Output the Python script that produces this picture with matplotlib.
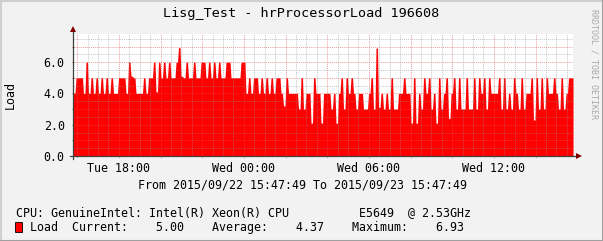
import numpy as np
import pandas as pd
import matplotlib
matplotlib.use("Agg")
import matplotlib.pyplot as plt
import matplotlib.dates as mdates
from matplotlib.ticker import MultipleLocator, FuncFormatter
from matplotlib.patches import Rectangle
from matplotlib.lines import Line2D

# ---------------- data ----------------
title = "Lisg_Test - hrProcessorLoad 196608"
y_label = "Load"
time_start = "2015-09-22 15:47:49"
time_end = "2015-09-23 15:47:49"
period_text = "From 2015/09/22 15:47:49 To 2015/09/23 15:47:49"
cpu_desc = "CPU: GenuineIntel: Intel(R) Xeon(R) CPU          E5649  @ 2.53GHz"
series_name = "Load"
stats_labels = ["Current:", "Average:", "Maximum:"]
stats_values = [5.00, 4.37, 6.93]
watermark = "RRDTOOL / TOBI OETIKER"

load_part1 = [4, 5, 5, 5, 4, 6, 4, 5, 4, 5, 4, 5, 4, 5, 4, 5, 4, 4, 5, 5,
              5, 4, 6, 5.1, 5, 4, 4, 4, 5, 4, 5, 5, 6]
load_part2 = [4.1, 6, 5, 6, 5, 6, 5, 5, 6, 6.93, 5.1, 5, 6, 5, 5, 6, 5, 5, 6, 6,
              5, 6, 5, 6, 5, 6, 5, 5, 6, 6, 5, 5, 5]
load_part3 = [5, 6, 6, 4, 5, 4, 5, 5, 4, 5, 4, 5, 4, 5, 4, 5, 5, 4, 3.2, 5,
              4, 4, 4, 4, 3, 5, 3, 4, 4, 2.1, 5, 4, 4, 2.1]
load_part4 = [4, 4, 4, 3, 4, 2.1, 4, 5, 3, 5, 4, 5, 4, 3, 4, 4, 3, 3, 4, 5,
              3, 6.9, 3.1, 4, 3, 4, 3, 5, 3, 3, 4, 4, 5, 4]
load_part5 = [4, 2.1, 5, 2.1, 4, 3, 5, 4, 5, 3, 4, 2.1, 5, 3, 4, 5, 2.4, 4, 5, 3,
              5, 3, 3, 5, 3, 3, 5, 3, 5, 4, 5, 3, 5, 4]
load_part6 = [4, 4, 5, 3, 5, 3, 4, 3, 5, 4, 3, 5, 3, 4, 4, 5, 2.3, 5, 3, 5,
              3, 5, 4, 4, 5, 4, 3, 5, 3, 4, 5, 5]
load_values = load_part1 + load_part2 + load_part3 + load_part4 + load_part5 + load_part6

# ---------------- figure ----------------
W, H = 603, 241
MONO = "DejaVu Sans Mono"
plt.rcParams["font.family"] = [MONO]

fig = plt.figure(figsize=(W / 100, H / 100), dpi=100)
fig.patch.set_facecolor("#F2F2F2")

def fx(px):
    return px / W

def fy(py):
    return 1 - py / H

ax_left, ax_right, ax_top, ax_bottom = 73, 573, 34, 156
ax = fig.add_axes([fx(ax_left), fy(ax_bottom), (ax_right - ax_left) / W, (ax_bottom - ax_top) / H])
ax.set_facecolor("white")

# each sample is held for part of its interval, with short ramps between samples
t0 = pd.Timestamp(time_start)
t1 = pd.Timestamp(time_end)
n = len(load_values)
dt = (t1 - t0) / n
hold = dt * 0.3
xs, ys = [], []
for i, v in enumerate(load_values):
    c = t0 + dt * (i + 0.5)
    xs += [c - hold, c + hold]
    ys += [v, v]
xs = [t0] + xs + [t1]
ys = [load_values[0]] + ys + [load_values[-1]]
ax.fill_between(pd.DatetimeIndex(xs), 0, ys, color="#FF0000", linewidth=0, zorder=2)

ax.set_xlim(t0, t1)
ax.set_ylim(0, 7.8)

# grid
ax.xaxis.set_major_locator(mdates.HourLocator(byhour=range(0, 24, 2)))
ax.xaxis.set_minor_locator(mdates.MinuteLocator(byminute=[0, 30]))

def xfmt(v, pos):
    d = mdates.num2date(v)
    return d.strftime("%a %H:%M") if d.hour % 6 == 0 and d.minute == 0 else ""

ax.xaxis.set_major_formatter(FuncFormatter(xfmt))
ax.yaxis.set_major_locator(MultipleLocator(1.0))
ax.yaxis.set_minor_locator(MultipleLocator(0.5))

def yfmt(v, pos):
    return f"{v:.1f}" if abs(v / 2 - round(v / 2)) < 1e-6 else ""

ax.yaxis.set_major_formatter(FuncFormatter(yfmt))

ax.grid(which="minor", color=(0.56, 0.56, 0.56), alpha=0.5, linewidth=0.7,
        linestyle=(0, (1, 1)), zorder=3)
ax.grid(which="major", color=(0.87, 0.31, 0.31), alpha=0.55, linewidth=0.7,
        linestyle=(0, (1, 1)), zorder=3)
ax.set_axisbelow(False)

ax.tick_params(axis="both", which="minor", length=0)
ax.tick_params(axis="x", which="major", length=2, width=0.7, color="#B04040",
               direction="inout", labelsize=8.4, pad=3)
ax.tick_params(axis="y", which="major", length=2, width=0.7, color="#B04040",
               direction="inout", labelsize=8.4, pad=5)
for lab in ax.get_xticklabels() + ax.get_yticklabels():
    lab.set_fontfamily(MONO)

for s in ax.spines.values():
    s.set_visible(False)

# axes with arrows
axis_col = "#404040"
arrow_col = "#800000"
ax.add_line(Line2D([-3 / 500, 1.004], [0, 0], transform=ax.transAxes,
                   color=axis_col, linewidth=0.9, clip_on=False, zorder=5))
ax.add_line(Line2D([0, 0], [-3 / 122, 1.02], transform=ax.transAxes,
                   color=axis_col, linewidth=0.9, clip_on=False, zorder=5))
ax.plot([1.012], [0], transform=ax.transAxes, marker=">", markersize=4.5,
        color=arrow_col, clip_on=False, zorder=6, markeredgewidth=0)
ax.plot([0], [1.037], transform=ax.transAxes, marker="^", markersize=4.5,
        color=arrow_col, clip_on=False, zorder=6, markeredgewidth=0)

# texts
fig.text(fx(301), fy(14), title, ha="center", va="center", fontsize=9.7, family=MONO)
fig.text(fx(10), fy(95), y_label, ha="center", va="center", rotation=90, fontsize=8.4, family=MONO)
fig.text(fx(302), fy(185), period_text, ha="center", va="center", fontsize=8.4, family=MONO)
fig.text(fx(16), fy(213), cpu_desc, ha="left", va="center", fontsize=8.4, family=MONO)

stats_line = f"{series_name}  " + "    ".join(
    f"{lab}{val:8.2f}" for lab, val in zip(stats_labels, stats_values))
fig.text(fx(30), fy(227), stats_line, ha="left", va="center", fontsize=8.4, family=MONO)
fig.patches.append(Rectangle((fx(15), fy(232)), 7 / W, 10 / H, transform=fig.transFigure,
                             facecolor="#FF0000", edgecolor="#000000", linewidth=0.6))

fig.text(fx(594), fy(64), watermark, ha="center", va="center", rotation=270,
         fontsize=6, color="#A8A8A8", family=MONO)

# frame
fig.add_artist(Line2D([0, 1], [fy(0.5), fy(0.5)], transform=fig.transFigure, color="#CFCFCF", linewidth=1.5))
fig.add_artist(Line2D([fx(0.5), fx(0.5)], [0, 1], transform=fig.transFigure, color="#CFCFCF", linewidth=1.5))
fig.add_artist(Line2D([0, 1], [fy(H - 0.5), fy(H - 0.5)], transform=fig.transFigure, color="#A0A0A0", linewidth=1.5))
fig.add_artist(Line2D([fx(W - 0.5), fx(W - 0.5)], [0, 1], transform=fig.transFigure, color="#A0A0A0", linewidth=1.5))

fig.savefig("out.png", dpi=100, facecolor=fig.get_facecolor())
